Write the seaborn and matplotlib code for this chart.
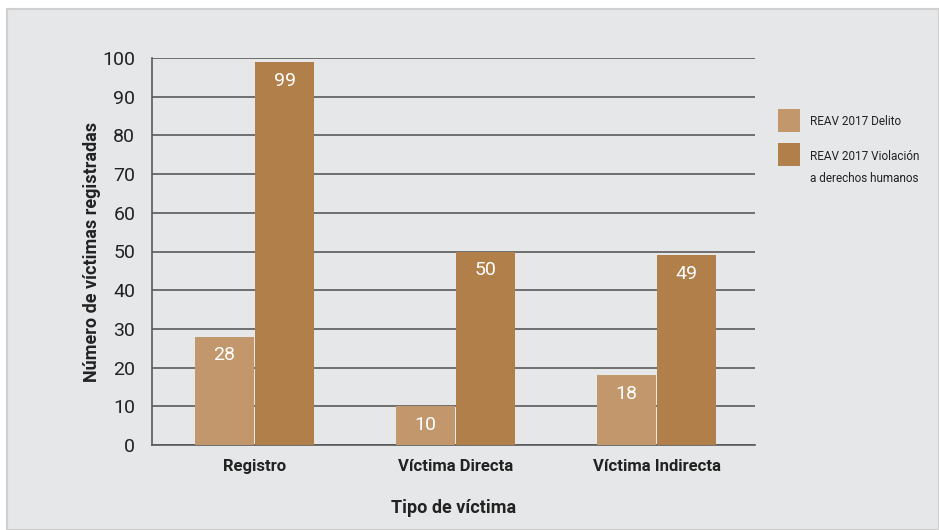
import matplotlib
matplotlib.use("Agg")
import matplotlib.pyplot as plt
from matplotlib.patches import Rectangle
import pandas as pd
import seaborn as sns

categorias = ["Registro", "Víctima Directa", "Víctima Indirecta"]
delito = [28, 10, 18]
violacion = [99, 50, 49]
series = ["REAV 2017 Delito", "REAV 2017 Violación"]
colores = ["#c1976b", "#b17f4a"]

df = pd.DataFrame({
    "Tipo": categorias * 2,
    "Valor": delito + violacion,
    "Serie": [series[0]] * 3 + [series[1]] * 3,
})

sns.set_style("white")
plt.rcParams["font.family"] = ["Roboto", "DejaVu Sans"]

fig = plt.figure(figsize=(9.39, 5.30), dpi=100)
fig.patch.set_facecolor("white")
fig.patches.append(Rectangle((7 / 939, 0), 932 / 939, 521 / 530, transform=fig.transFigure,
                             facecolor="#e6e7e9", edgecolor="#cfcfcf", lw=1.5, zorder=-5))

ax = fig.add_axes([152 / 939, (530 - 445) / 530, 603 / 939, 387 / 530])
ax.set_facecolor("#e6e7e9")
sns.barplot(data=df, x="Tipo", y="Valor", hue="Serie", palette=colores, saturation=1,
            width=0.6, gap=0.03, linewidth=0, ax=ax, legend=False, zorder=3)

ax.set_ylim(0, 100)
ax.set_xlim(-0.51, 2.49)
ax.set_yticks(range(0, 101, 10))
ax.yaxis.grid(True, color="#5a5a5a", lw=1.2, zorder=1)
ax.set_axisbelow(True)
for s in ["top", "right"]:
    ax.spines[s].set_visible(False)
for s in ["left", "bottom"]:
    ax.spines[s].set_color("#5a5a5a")
    ax.spines[s].set_linewidth(1.2)
ax.tick_params(axis="y", labelsize=14, length=0, pad=12, colors="#222222")
ax.tick_params(axis="x", labelsize=12, length=0, pad=10, colors="#222222")
for t in ax.get_xticklabels():
    t.set_fontweight("bold")

for p in ax.patches:
    h = p.get_height()
    if h > 0:
        ax.text(p.get_x() + p.get_width() / 2, h - 2.5, f"{int(h)}",
                ha="center", va="top", color="white", fontsize=14, zorder=4)

ax.set_xlabel("Tipo de víctima", fontsize=13, fontweight="bold", labelpad=18, color="#222222")
ax.set_ylabel("Número de víctimas registradas", fontsize=13, fontweight="bold",
              labelpad=1, color="#222222")

# leyenda
W, H = 939, 530
leg_y = [109, 143]
for c, y0 in zip(colores, leg_y):
    fig.patches.append(Rectangle((778 / W, 1 - (y0 + 23) / H), 22 / W, 23 / H,
                                 transform=fig.transFigure, facecolor=c, edgecolor="none"))
fig.text(810 / W, 1 - 121 / H, series[0], fontsize=8.5, va="center", color="#222222")
fig.text(810 / W, 1 - 157 / H, series[1], fontsize=8.5, va="center", color="#222222")
fig.text(810 / W, 1 - 179 / H, "a derechos humanos", fontsize=8.5, va="center", color="#222222")

fig.savefig("out.png", dpi=100, facecolor=fig.get_facecolor())
